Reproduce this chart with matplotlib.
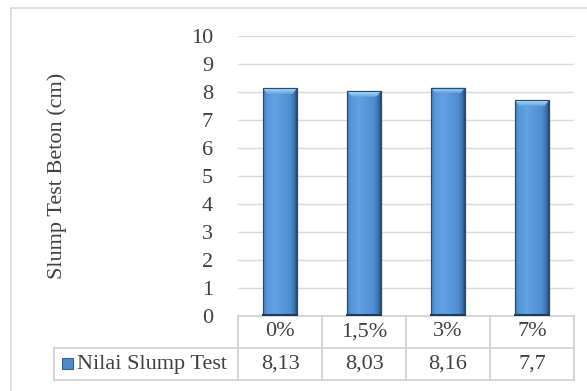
import matplotlib.pyplot as plt
import matplotlib.patches as mpatches
import matplotlib.transforms as mtransforms
import numpy as np
from matplotlib.colors import LinearSegmentedColormap

# data
categories = ['0%', '1,5%', '3%', '7%']
slump_values = [8.13, 8.03, 8.16, 7.7]
value_labels = ['8,13', '8,03', '8,16', '7,7']
series_name = 'Nilai Slump Test'

plt.rcParams['font.family'] = ['Liberation Serif', 'DejaVu Serif']
text_col = '#404040'
grid_col = '#D9D9D9'
table_col = '#D0D0D0'

W, H = 587, 391
fig = plt.figure(figsize=(W / 100, H / 100), dpi=100)

# plot area in pixels: left 238, right 574, y=0 at 316, y=10 at 36
ax = fig.add_axes([238 / W, (H - 316) / H, 336 / W, 280 / H])
ax.set_xlim(-0.5, len(categories) - 0.5)
ax.set_ylim(0, 10)
ax.set_yticks(range(0, 11))
ax.set_xticks([])
for s in ax.spines.values():
    s.set_visible(False)
ax.tick_params(axis='y', length=0, pad=18, labelsize=16, labelcolor=text_col)
ax.yaxis.grid(True, color=grid_col, lw=1)
ax.set_axisbelow(True)
ax.set_ylabel('Slump Test Beton (cm)', fontsize=16, color=text_col, labelpad=0)
ax.yaxis.set_label_coords(-0.51, 0.5)

# gradient bars with a light bevel on top
bar_cmap = LinearSegmentedColormap.from_list(
    'bar', [(0, '#3F78B8'), (0.1, '#5594D6'), (0.35, '#62A2E0'),
            (0.8, '#4E8DD0'), (0.93, '#3A6FAA'), (1, '#22496F')])
cap_cmap = LinearSegmentedColormap.from_list('cap', ['#62A2E0', '#B4DCFA'])
grad = np.linspace(0, 1, 256).reshape(1, -1)
vgrad = np.linspace(0, 1, 64).reshape(-1, 1)[::-1]
bars = ax.bar(range(len(categories)), slump_values, width=0.4,
              color='#5B9BD5', edgecolor='#1F3F66', lw=0.8, zorder=2)
for b in bars:
    x0, w, h = b.get_x(), b.get_width(), b.get_height()
    im = ax.imshow(grad, cmap=bar_cmap, aspect='auto',
                   extent=(x0, x0 + w, 0, h), zorder=2.1)
    im.set_clip_path(b)
    bevel = mpatches.Polygon([(x0, h), (x0 + w, h), (x0 + w - 0.05, h - 0.2),
                              (x0 + 0.05, h - 0.2)], closed=True,
                             transform=ax.transData, visible=False)
    ax.add_patch(bevel)
    cap = ax.imshow(vgrad, cmap=cap_cmap, aspect='auto',
                    extent=(x0, x0 + w, h - 0.2, h), zorder=2.2)
    cap.set_clip_path(bevel)
    ax.add_patch(mpatches.Rectangle((x0, 0), w, h, fill=False,
                                    ec='#264B75', lw=0.8, zorder=2.3))
    ax.plot([x0, x0 + w], [0.02, 0.02], color='#1B3A5E', lw=1.5, zorder=2.4)

# data table under the plot
trans = mtransforms.blended_transform_factory(ax.transData, ax.transAxes)
row_h = 32 / 280
x_left = -0.5 - 184 / 84
x_right = len(categories) - 0.5
line_kw = dict(color=table_col, lw=1.2, transform=trans, clip_on=False)
ax.plot([-0.5, x_right], [0, 0], **line_kw)
ax.plot([x_left, x_right], [-row_h, -row_h], **line_kw)
ax.plot([x_left, x_right], [-2 * row_h, -2 * row_h], **line_kw)
ax.plot([x_left, x_left], [-row_h, -2 * row_h], **line_kw)
for i in range(len(categories) + 1):
    ax.plot([i - 0.5, i - 0.5], [0, -2 * row_h], **line_kw)

for i, (cat, lab) in enumerate(zip(categories, value_labels)):
    ax.text(i, -0.5 * row_h, cat, transform=trans, ha='center', va='center',
            fontsize=16, color=text_col)
    ax.text(i, -1.5 * row_h, lab, transform=trans, ha='center', va='center',
            fontsize=16, color=text_col)

# legend key and series name
fig.patches.append(mpatches.Rectangle((62 / W, (H - 369) / H), 11 / W, 11 / H,
                                      transform=fig.transFigure,
                                      fc='#4F8ACB', ec='#2E5E93', lw=0.8))
ax.text(x_left + 0.27, -1.5 * row_h, series_name, transform=trans,
        ha='left', va='center', fontsize=16, color=text_col)

# outer chart border
fig.patches.append(mpatches.Rectangle((11 / W, -0.05), 1.0, (H - 8) / H + 0.05,
                                      transform=fig.transFigure, fill=False,
                                      ec='#D9D9D9', lw=1.2))

fig.savefig('out.png', dpi=100)
